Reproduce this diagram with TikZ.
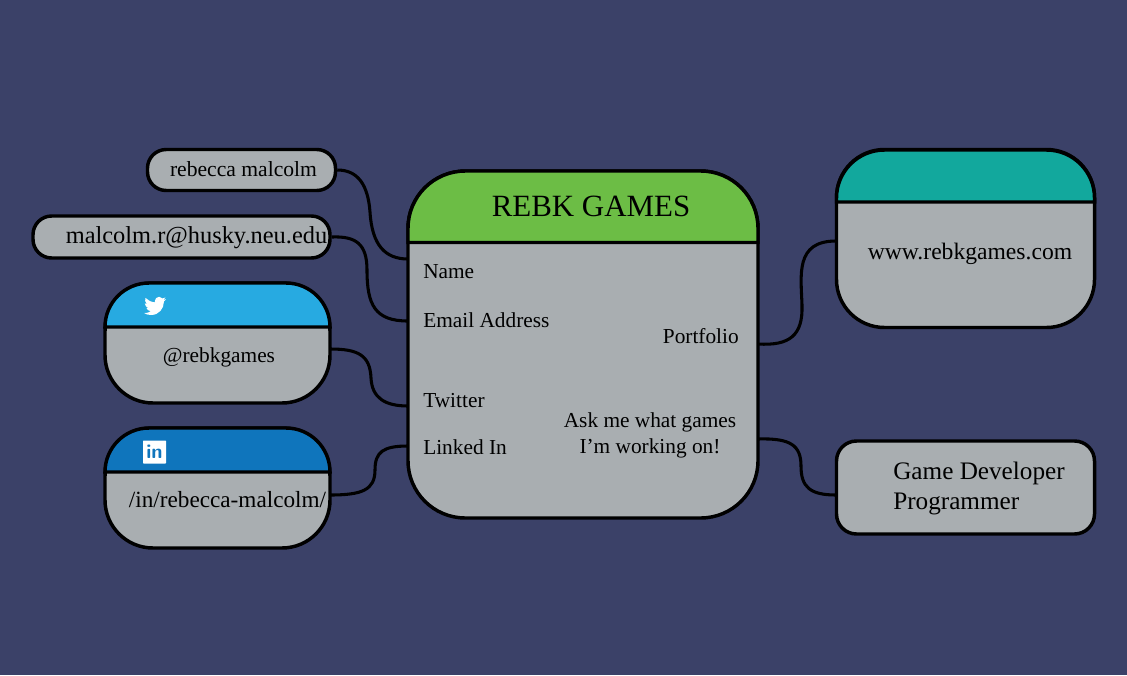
\documentclass[tikz,border=0pt]{standalone}
\usepackage{fontspec}
\setmainfont{Liberation Serif}
\usepackage{xcolor}
\usetikzlibrary{positioning}
\definecolor{bgblue}{HTML}{3B4168}
\definecolor{cardgray}{HTML}{A9AEB1}
\definecolor{titlegreen}{HTML}{6CBD45}
\definecolor{birdblue}{HTML}{27AAE1}
\definecolor{linkblue}{HTML}{0F75BC}
\definecolor{siteteal}{HTML}{12A89D}
\tikzstyle{card} = [rectangle, draw=black, fill=cardgray, line width=2.6pt, inner sep=0pt]
\tikzstyle{head} = [draw=black, line width=2.6pt]
\tikzstyle{txt} = [inner sep=0pt, font=\fontsize{16}{19.5}\selectfont, align=center]
\tikzstyle{link} = [line width=2.3pt, black]

\begin{document}
\begin{tikzpicture}[x=0.75pt,y=-0.75pt]
\useasboundingbox (0,0) rectangle (1127,675);
\fill [bgblue] (0,0) rectangle (1127,675);

\coordinate (inName) at (408,259);
\coordinate (inEmail) at (408,321);
\coordinate (inTwitter) at (408,406);
\coordinate (inLinked) at (408,446);
\coordinate (outPortfolio) at (758,344);
\coordinate (outJob) at (758,439);
\coordinate (siteIn) at (836,241);
\coordinate (jobIn) at (836,495);
\coordinate (twitterOut) at (330,349);
\coordinate (linkedOut) at (330,495);

% cards
\node (main) [card, rounded corners=43pt, minimum width=350*0.75pt, minimum height=347*0.75pt] at (583,344.5) {};
\node (nameCard) [card, rounded corners=14pt, minimum width=188*0.75pt, minimum height=41*0.75pt] at (241.5,170) {};
\node (mailCard) [card, rounded corners=14pt, minimum width=297*0.75pt, minimum height=42*0.75pt] at (181.5,237) {};
\node (twitterCard) [card, rounded corners=36pt, minimum width=225*0.75pt, minimum height=120*0.75pt] at (217.5,343) {};
\node (linkedCard) [card, rounded corners=36pt, minimum width=225*0.75pt, minimum height=120*0.75pt] at (217.5,488) {};
\node (siteCard) [card, rounded corners=36pt, minimum width=258*0.75pt, minimum height=178*0.75pt] at (965.5,238.5) {};
\node (jobCard) [card, rounded corners=15pt, minimum width=258*0.75pt, minimum height=93*0.75pt] at (965.5,487.5) {};

% card heads
\draw [head, fill=titlegreen] (408,242.5) [rounded corners=43pt] -- (408,171) -- (758,171) [sharp corners] -- (758,242.5) -- cycle;
\draw [head, fill=birdblue] (105,327) [rounded corners=33pt] -- (105,283) -- (330,283) [sharp corners] -- (330,327) -- cycle;
\draw [head, fill=linkblue] (105,472) [rounded corners=33pt] -- (105,428) -- (330,428) [sharp corners] -- (330,472) -- cycle;
\draw [head, fill=siteteal] (836.5,202) [rounded corners=36pt] -- (836.5,150) -- (1094.5,150) [sharp corners] -- (1094.5,202) -- cycle;

\draw [link] (nameCard.east) .. controls (358,170) and (368,185) .. (370,212) .. controls (372,245) and (385,259) .. (inName);
\draw [link] (mailCard.east) .. controls (356,236) and (367,244) .. (367,270) .. controls (367,305) and (375,321) .. (inEmail);
\draw [link] (twitterOut) .. controls (358,349) and (370,355) .. (371,378) .. controls (372,398) and (385,406) .. (inTwitter);
\draw [link] (linkedOut) .. controls (362,495) and (375,490) .. (375,470) .. controls (375,452) and (383,446) .. (inLinked);
\draw [link] (outPortfolio) .. controls (790,346) and (803,335) .. (802,305) .. controls (801,275) and (795,241) .. (siteIn);
\draw [link] (outJob) .. controls (790,438) and (801,445) .. (801,466) .. controls (801,487) and (810,495) .. (jobIn);

% texts
\node (title) [txt, font=\fontsize{23.2}{26}\selectfont] at (591,206) {REBK GAMES};
\node (lblName) [txt, anchor=west] at (423,272) {Name};
\node (lblEmail) [txt, anchor=west] at (423,320) {Email Address};
\node (lblTwitter) [txt, anchor=west] at (423,400.5) {Twitter};
\node (lblLinked) [txt, anchor=west] at (423,447) {Linked In};
\node (lblPortfolio) [txt, anchor=east] at (739,336) {Portfolio};
\node (lblAsk) [txt] at (650,435.5) {Ask me what games\\I'm working on!};
\node (nameTxt) [txt, font=\fontsize{16.2}{19}\selectfont] at (243.5,169) {rebecca malcolm};
\node (mailTxt) [txt, font=\fontsize{18.3}{20}\selectfont] at (196.5,238) {malcolm.r@husky.neu.edu};
\node (twitterTxt) [txt] at (219,357) {@rebkgames};
\node (linkedTxt) [txt, font=\fontsize{17.4}{20}\selectfont] at (227.5,500) {/in/rebecca-malcolm/};
\node (siteTxt) [txt, font=\fontsize{17.7}{20}\selectfont] at (970,254) {www.rebkgames.com};
\node (jobTxt) [txt, align=left, anchor=west, font=\fontsize{18.9}{22.5}\selectfont] at (893,488) {Game Developer\\Programmer};

% icons
\node (linkedIcon) [fill=white, rounded corners=0.5pt, minimum size=23*0.75pt, inner sep=0pt, text=linkblue, font=\sffamily\bfseries\fontsize{15}{15}\selectfont] at (154.5,452) {in};
\begin{scope}[shift={(144,295)}, x=0.69pt, y=-0.69pt]
\fill [white] (23.95,4.57) -- (21.13,5.35) -- (23.29,2.62) -- (20.16,3.8)
  .. controls (19.2,2.6) and (17.9,1.9) .. (16.6,1.9)
  .. controls (13.9,1.9) and (11.7,4.1) .. (11.7,6.8)
  .. controls (11.7,7.2) and (11.75,7.6) .. (11.85,7.95)
  .. controls (7.7,7.75) and (4.07,5.75) .. (1.64,3.16)
  .. controls (0.6,5.2) and (1.2,8.2) .. (3.16,9.73)
  -- (0.93,9.12) .. controls (0.95,11.5) and (2.6,13.6) .. (4.88,14)
  -- (2.67,14.09) .. controls (3.3,16) and (5.1,17.4) .. (7.27,17.5)
  .. controls (5.6,18.9) and (3.3,19.8) .. (1.17,19.6)
  -- (0,19.54) .. controls (2.2,21) and (4.8,21.75) .. (7.56,21.75)
  .. controls (16.6,21.75) and (21.56,14.25) .. (21.56,7.76)
  -- (21.54,7.13) -- cycle;
\end{scope}
\end{tikzpicture}
\end{document}
